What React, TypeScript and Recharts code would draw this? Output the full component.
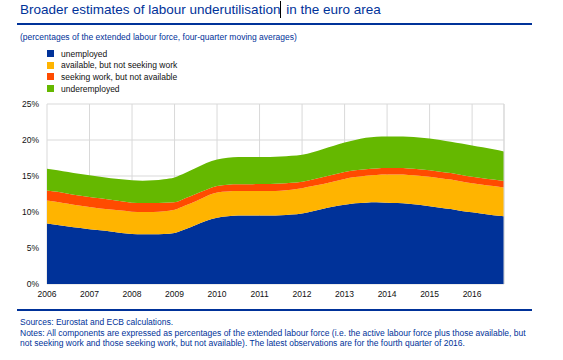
import { AreaChart, Area, XAxis, YAxis, CartesianGrid, ReferenceLine } from 'recharts';

const FIRST_YEAR = 2006;
const yearTicks = [2006, 2007, 2008, 2009, 2010, 2011, 2012, 2013, 2014, 2015, 2016];
const pctTicks = [0, 5, 10, 15, 20, 25];

// quarterly, 2006Q1 - 2016Q4 (four-quarter moving averages, % of extended labour force)
const unemployed = [
  8.4, 8.2, 8.0, 7.8,
  7.6, 7.45, 7.3, 7.1,
  6.95, 6.9, 6.9, 6.95,
  7.1, 7.6, 8.2, 8.8,
  9.2, 9.4, 9.5, 9.5,
  9.5, 9.5, 9.55, 9.65,
  9.8, 10.1, 10.45, 10.75,
  11.0, 11.2, 11.3, 11.35,
  11.3, 11.25, 11.15, 11.0,
  10.8, 10.6, 10.4, 10.15,
  9.95, 9.75, 9.55, 9.4,
];
const availableNotSeeking = [
  3.2, 3.2, 3.15, 3.1,
  3.1, 3.05, 3.05, 3.1,
  3.1, 3.1, 3.1, 3.15,
  3.2, 3.3, 3.3, 3.4,
  3.5, 3.45, 3.4, 3.4,
  3.4, 3.4, 3.4, 3.45,
  3.5, 3.5, 3.45, 3.5,
  3.6, 3.65, 3.75, 3.8,
  3.9, 3.95, 4.0, 4.05,
  4.1, 4.1, 4.1, 4.1,
  4.05, 4.05, 4.05, 4.0,
];
const seekingNotAvailable = [
  1.4, 1.4, 1.4, 1.4,
  1.4, 1.4, 1.35, 1.3,
  1.25, 1.25, 1.25, 1.2,
  1.05, 1.0, 1.0, 0.9,
  0.9, 0.95, 0.95, 0.95,
  1.0, 1.0, 1.0, 0.95,
  0.9, 0.9, 0.95, 0.95,
  0.95, 0.95, 0.9, 0.9,
  0.9, 0.9, 0.9, 0.9,
  0.9, 0.9, 0.9, 0.9,
  0.9, 0.9, 0.9, 0.9,
];
const underemployed = [
  3.0, 3.0, 3.0, 3.0,
  3.0, 3.0, 3.0, 3.05,
  3.1, 3.1, 3.15, 3.25,
  3.45, 3.5, 3.6, 3.7,
  3.7, 3.75, 3.8, 3.8,
  3.75, 3.75, 3.75, 3.75,
  3.75, 3.8, 3.9, 4.0,
  4.1, 4.2, 4.35, 4.4,
  4.4, 4.4, 4.4, 4.4,
  4.4, 4.4, 4.35, 4.35,
  4.35, 4.3, 4.2, 4.1,
];

const SERIES = [
  { key: 'unemployed', label: 'unemployed', color: '#003299' },
  { key: 'available', label: 'available, but not seeking work', color: '#FFB400' },
  { key: 'seeking', label: 'seeking work, but not available', color: '#FF4B00' },
  { key: 'underemployed', label: 'underemployed', color: '#65B800' },
];

const data = unemployed.map((u, i) => ({
  t: FIRST_YEAR + i / 4,
  unemployed: u,
  available: availableNotSeeking[i],
  seeking: seekingNotAvailable[i],
  underemployed: underemployed[i],
}));

const LAST_T = data[data.length - 1].t;
const FONT = '"Liberation Sans", Arial, sans-serif';
const ECB_BLUE = '#003299';
const GRID = '#d9d9d9';

export default function App() {
  return (
    <div style={{ position: 'absolute', left: 0, top: 0, width: 563, height: 360, background: '#fff', fontFamily: FONT }}>
      {/* title */}
      <div style={{ position: 'absolute', left: 20, top: 1, fontSize: 13.5, lineHeight: '17px', color: ECB_BLUE, whiteSpace: 'nowrap' }}>
        Broader estimates of labour underutilisation
        <span style={{ display: 'inline-block', width: 0, height: 17, borderLeft: '1px solid #000', verticalAlign: 'top', marginRight: 1 }} />
        {' '}in the euro area
      </div>
      <div style={{ position: 'absolute', left: 17, top: 23, width: 515, height: 2, background: ECB_BLUE }} />

      <div style={{ position: 'absolute', left: 20, top: 32, fontSize: 8.5, lineHeight: '10px', color: ECB_BLUE, whiteSpace: 'nowrap' }}>
        (percentages of the extended labour force, four-quarter moving averages)
      </div>

      {/* legend */}
      {SERIES.map((s, i) => (
        <div key={s.key} style={{ position: 'absolute', left: 47, top: 48 + i * 11.7, height: 11, display: 'flex', alignItems: 'center', fontSize: 8.5, color: '#111', whiteSpace: 'nowrap' }}>
          <span style={{ display: 'inline-block', width: 7, height: 7, background: s.color, marginRight: 7 }} />
          {s.label}
        </div>
      ))}

      <div style={{ position: 'absolute', left: 0, top: 95 }}>
        <AreaChart width={520} height={219} data={data} margin={{ top: 9, right: 16, bottom: 0, left: 0 }}>
          <CartesianGrid stroke={GRID} strokeWidth={1} />
          <XAxis
            dataKey="t"
            type="number"
            domain={[FIRST_YEAR, LAST_T]}
            ticks={yearTicks}
            axisLine={false}
            tickLine={false}
            tickMargin={1}
            height={30}
            tick={{ fontSize: 8.5, fill: '#111', fontFamily: FONT }}
            interval={0}
          />
          <YAxis
            domain={[0, 25]}
            ticks={pctTicks}
            axisLine={false}
            tickLine={false}
            width={47}
            tickFormatter={(v) => `${v}%`}
            tick={{ fontSize: 8.5, fill: '#111', fontFamily: FONT }}
          />
          <ReferenceLine x={LAST_T} stroke={GRID} />
          {SERIES.map((s) => (
            <Area
              key={s.key}
              dataKey={s.key}
              stackId="a"
              type="monotone"
              stroke="none"
              fill={s.color}
              fillOpacity={1}
              isAnimationActive={false}
            />
          ))}
        </AreaChart>
      </div>

      <div style={{ position: 'absolute', left: 17, top: 309, width: 515, height: 2, background: ECB_BLUE }} />

      <div style={{ position: 'absolute', left: 20, top: 317, width: 530, fontSize: 8.5, lineHeight: '10.6px', color: ECB_BLUE, whiteSpace: 'nowrap' }}>
        Sources: Eurostat and ECB calculations.
        <br />
        Notes: All components are expressed as percentages of the extended labour force (i.e. the active labour force plus those available, but
        <br />
        not seeking work and those seeking work, but not available). The latest observations are for the fourth quarter of 2016.
      </div>
    </div>
  );
}
